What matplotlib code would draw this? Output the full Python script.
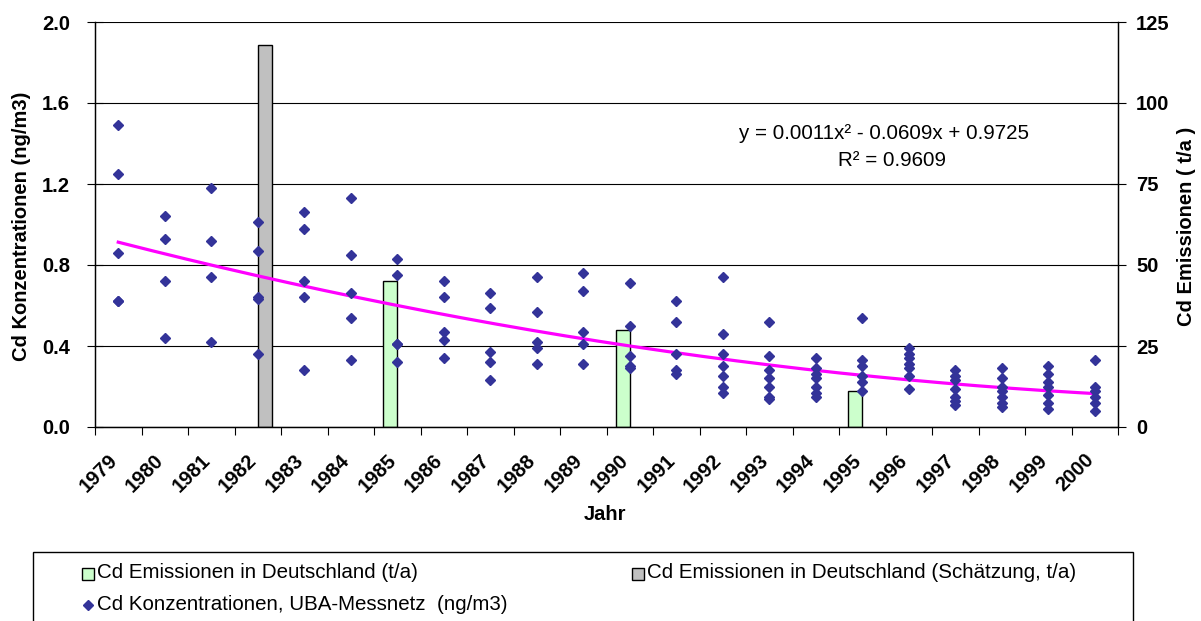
import numpy as np
import matplotlib
matplotlib.use("Agg")
import matplotlib.pyplot as plt
from matplotlib.patches import Rectangle
from matplotlib.lines import Line2D
import matplotlib.transforms as mtransforms

plt.rcParams['font.family'] = ['Liberation Sans', 'DejaVu Sans']

# ---------------- data ----------------
years = list(range(1979, 2001))
konz = [
    [1.49, 1.25, 0.86, 0.62, 0.62],            # 1979
    [1.04, 0.93, 0.72, 0.44],                  # 1980
    [1.18, 0.92, 0.74, 0.42],                  # 1981
    [1.01, 0.87, 0.64, 0.63, 0.36],            # 1982
    [1.06, 0.98, 0.72, 0.64, 0.28],            # 1983
    [1.13, 0.85, 0.66, 0.54, 0.33],            # 1984
    [0.83, 0.75, 0.41, 0.41, 0.32],            # 1985
    [0.72, 0.64, 0.47, 0.43, 0.34],            # 1986
    [0.66, 0.59, 0.37, 0.32, 0.23],            # 1987
    [0.74, 0.57, 0.42, 0.39, 0.31],            # 1988
    [0.76, 0.67, 0.47, 0.41, 0.31],            # 1989
    [0.71, 0.50, 0.35, 0.30, 0.29],            # 1990
    [0.62, 0.52, 0.36, 0.28, 0.26],            # 1991
    [0.74, 0.46, 0.36, 0.30, 0.25, 0.20, 0.17],  # 1992
    [0.52, 0.35, 0.28, 0.24, 0.20, 0.15, 0.14],  # 1993
    [0.34, 0.29, 0.26, 0.24, 0.20, 0.17, 0.15],  # 1994
    [0.54, 0.33, 0.30, 0.25, 0.22, 0.18],      # 1995
    [0.39, 0.36, 0.34, 0.31, 0.29, 0.25, 0.19],  # 1996
    [0.28, 0.25, 0.23, 0.19, 0.15, 0.13, 0.11],  # 1997
    [0.29, 0.24, 0.20, 0.18, 0.15, 0.12, 0.10],  # 1998
    [0.30, 0.26, 0.22, 0.20, 0.16, 0.12, 0.09],  # 1999
    [0.33, 0.20, 0.18, 0.15, 0.12, 0.08],      # 2000
]
emis_years = [1985, 1990, 1995]
emis_values = [45, 30, 11]
schaetz_years = [1982]
schaetz_values = [118]
trend_coef = [0.0011, -0.0609, 0.9725]   # y = a x^2 + b x + c, x = 1..22

left_ticks = [0.0, 0.4, 0.8, 1.2, 1.6, 2.0]
right_ticks = [0, 25, 50, 75, 100, 125]

# ---------------- figure ----------------
W, H = 1201, 621
fig = plt.figure(figsize=(W / 100, H / 100), dpi=100)
fig.patch.set_facecolor('white')

def fx(x):
    return x / W

def fy(y):
    return 1 - y / H

ax_l, ax_r, ax_t, ax_b = 95, 1118, 22, 427
ax2 = fig.add_axes([fx(ax_l), fy(ax_b), fx(ax_r - ax_l), (ax_b - ax_t) / H])
ax = fig.add_axes(ax2.get_position(), sharex=ax2)
ax.set_zorder(ax2.get_zorder() + 1)
ax.patch.set_visible(False)

idx = {y: i for i, y in enumerate(years)}
n = len(years)

# bars on secondary axis (behind)
bw = 0.30
ax2.bar([idx[y] - bw / 2 for y in emis_years], emis_values, width=bw,
        color='#CCFFCC', edgecolor='black', linewidth=1.0, zorder=2)
ax2.bar([idx[y] + bw / 2 for y in schaetz_years], schaetz_values, width=bw,
        color='#C0C0C0', edgecolor='black', linewidth=1.0, zorder=2)
ax2.set_ylim(0, 125)
ax2.set_yticks(right_ticks)
ax2.yaxis.tick_right()
ax2.grid(axis='y', color='black', linewidth=0.8, zorder=0)
ax2.set_axisbelow(True)
ax2.tick_params(axis='y', direction='inout', length=12, width=0.8,
                pad=7, labelsize=14.5)
for lab in ax2.get_yticklabels():
    lab.set_fontweight('bold')

# scatter + trend on primary axis
xs, ys = [], []
for i, vals in enumerate(konz):
    for v in vals:
        xs.append(i)
        ys.append(v)
ax.plot(xs, ys, linestyle='none', marker='D', markersize=4.9,
        color='#333399', markeredgecolor='#333399', zorder=4)
xt = np.linspace(0, n - 1, 200)
xe = xt + 1
ax.plot(xt, np.polyval(trend_coef, xe), color='#FF00FF', linewidth=2.3,
        zorder=3)
ax.set_ylim(0, 2.0)
ax.set_yticks(left_ticks)
ax.set_yticklabels([f'{t:.1f}' for t in left_ticks])
ax.yaxis.tick_left()
ax.tick_params(axis='y', direction='inout', length=12, width=0.8,
               pad=12, labelsize=14.5)
for lab in ax.get_yticklabels():
    lab.set_fontweight('bold')

ax2.set_xlim(-0.5, n - 0.5)
ax.set_xlim(-0.5, n - 0.5)
ax2.set_xticks(np.arange(-0.5, n, 1.0))
ax2.set_xticklabels([])
ax2.tick_params(axis='x', direction='out', length=6, width=0.8)
ax.tick_params(axis='x', which='both', length=0, labelbottom=False)

for sp in ax.spines.values():
    sp.set_linewidth(0.9)
for sp in ax2.spines.values():
    sp.set_linewidth(0.9)
ax2.spines['top'].set_visible(False)
ax.spines['top'].set_visible(False)

# axis titles
fig.text(fx(22), fy(226), 'Cd Konzentrationen (ng/m3)', rotation=90,
         ha='center', va='center', fontsize=14.5, fontweight='bold')
fig.text(fx(1187), fy(226), 'Cd Emissionen ( t/a )', rotation=90,
         ha='center', va='center', fontsize=14.5, fontweight='bold')

# rotated year labels
off = mtransforms.ScaledTranslation(-4 / 100, -30 / 100, fig.dpi_scale_trans)
trans = mtransforms.blended_transform_factory(ax.transData, ax.transAxes) + off
for i, y in enumerate(years):
    ax.text(i, 0, str(y), transform=trans, rotation=45, rotation_mode='anchor',
            ha='right', va='center', fontsize=14.5, fontweight='bold')

fig.text(fx(605), fy(515), 'Jahr', ha='center', va='center', fontsize=14.5,
         fontweight='bold')

# trend equation
fig.text(fx(884), fy(133), 'y = 0.0011x² - 0.0609x + 0.9725', ha='center',
         va='center', fontsize=14.8)
fig.text(fx(892), fy(160), 'R² = 0.9609', ha='center', va='center',
         fontsize=14.8)

# legend (manual)
fig.patches.append(Rectangle((fx(33), fy(650)), fx(1133 - 33), (650 - 552) / H,
                             transform=fig.transFigure, fill=False,
                             edgecolor='black', linewidth=1.0))
fig.patches.append(Rectangle((fx(82), fy(580)), fx(12), 12 / H,
                             transform=fig.transFigure, facecolor='#CCFFCC',
                             edgecolor='black', linewidth=1.0))
fig.text(fx(97), fy(573), 'Cd Emissionen in Deutschland (t/a)', ha='left',
         va='center', fontsize=14.8)
fig.patches.append(Rectangle((fx(632), fy(580)), fx(12), 12 / H,
                             transform=fig.transFigure, facecolor='#C0C0C0',
                             edgecolor='black', linewidth=1.0))
fig.text(fx(647), fy(573), 'Cd Emissionen in Deutschland (Schätzung, t/a)',
         ha='left', va='center', fontsize=14.8)
fig.lines.append(Line2D([fx(88)], [fy(605)], transform=fig.transFigure,
                        marker='D', markersize=4.9, color='#333399',
                        linestyle='none'))
fig.text(fx(97), fy(605), 'Cd Konzentrationen, UBA-Messnetz  (ng/m3)',
         ha='left', va='center', fontsize=14.8)

fig.savefig('out.png', dpi=100)
